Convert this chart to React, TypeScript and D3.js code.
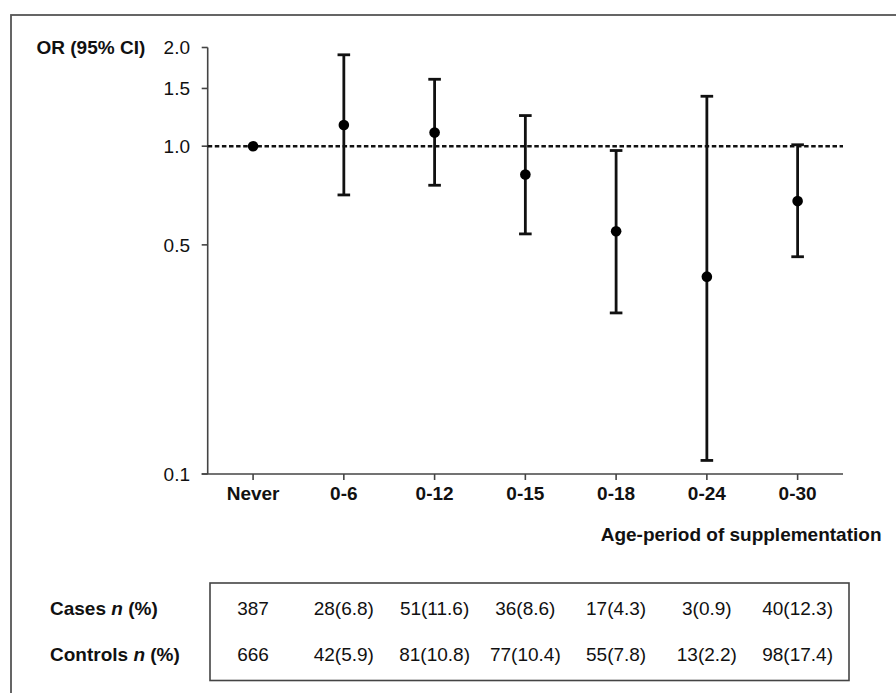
import React from "react";
import * as d3 from "d3";

const categories = ["Never", "0-6", "0-12", "0-15", "0-18", "0-24", "0-30"];
const orValues = [1.0, 1.16, 1.1, 0.82, 0.55, 0.4, 0.68];
const ciLower = [1.0, 0.71, 0.76, 0.54, 0.31, 0.11, 0.46];
const ciUpper = [1.0, 1.9, 1.6, 1.24, 0.97, 1.42, 1.01];
const yTicks = [0.1, 0.5, 1.0, 1.5, 2.0];
const casesRow = ["387", "28(6.8)", "51(11.6)", "36(8.6)", "17(4.3)", "3(0.9)", "40(12.3)"];
const controlsRow = ["666", "42(5.9)", "81(10.8)", "77(10.4)", "55(7.8)", "13(2.2)", "98(17.4)"];

const W = 896;
const H = 693;
const font = "'Liberation Sans', Arial, sans-serif";
const fs = 19;

export default function App() {
  const x = d3.scaleBand<string>().domain(categories).range([207.7, 843]);
  const y = d3.scaleLog().domain([0.1, 2.0]).range([474, 47.5]);
  const cx = (c: string) => (x(c) as number) + x.bandwidth() / 2;
  const x0 = 207.7;
  const x1 = 843;
  const capW = 6.3;

  return (
    <svg
      width={W}
      height={H}
      style={{ position: "absolute", left: 0, top: 0, background: "#fff" }}
      fontFamily={font}
    >
      <rect x={0} y={0} width={W} height={H} fill="#fff" />
      {/* outer frame */}
      <rect x={11} y={15} width={W + 20} height={H + 20} fill="none" stroke="#555" strokeWidth={1.8} />

      {/* y axis */}
      <line x1={x0} x2={x0} y1={y(2.0)} y2={y(0.1)} stroke="#444" strokeWidth={1.6} />
      {yTicks.map((t) => (
        <g key={t}>
          <line x1={x0 - 6} x2={x0} y1={y(t)} y2={y(t)} stroke="#444" strokeWidth={1.6} />
          <text x={190} y={y(t)} dy="0.36em" textAnchor="end" fontSize={fs} fill="#111">
            {t.toFixed(1)}
          </text>
        </g>
      ))}
      <text x={36.5} y={53.5} fontSize={fs} fontWeight="bold" fill="#111">
        OR (95% CI)
      </text>

      {/* x axis */}
      <line x1={x0 - 6} x2={x1} y1={y(0.1)} y2={y(0.1)} stroke="#444" strokeWidth={1.6} />
      {categories.map((c) => (
        <g key={c}>
          <line x1={cx(c)} x2={cx(c)} y1={y(0.1)} y2={y(0.1) + 6} stroke="#444" strokeWidth={1.6} />
          <text x={cx(c)} y={500} textAnchor="middle" fontSize={fs} fontWeight="bold" fill="#111">
            {c}
          </text>
        </g>
      ))}
      <text x={881.5} y={540.5} textAnchor="end" fontSize={fs} fontWeight="bold" fill="#111">
        Age-period of supplementation
      </text>

      {/* reference line */}
      <line x1={x0} x2={x1} y1={y(1)} y2={y(1)} stroke="#111" strokeWidth={2.4} strokeDasharray="4.5,2.6" />

      {/* error bars */}
      {categories.map((c, i) => {
        const px = cx(c);
        if (ciLower[i] === ciUpper[i]) return null;
        return (
          <g key={c} stroke="#111" strokeWidth={2.8}>
            <line x1={px} x2={px} y1={y(ciUpper[i])} y2={y(ciLower[i])} />
            <line x1={px - capW} x2={px + capW} y1={y(ciUpper[i])} y2={y(ciUpper[i])} />
            <line x1={px - capW} x2={px + capW} y1={y(ciLower[i])} y2={y(ciLower[i])} />
          </g>
        );
      })}
      {categories.map((c, i) => (
        <circle key={c} cx={cx(c)} cy={y(orValues[i])} r={5.3} fill="#000" />
      ))}

      {/* table */}
      <rect x={210} y={583} width={639} height={97.5} fill="none" stroke="#444" strokeWidth={1.6} />
      <text x={50} y={615} fontSize={fs} fontWeight="bold" fill="#111">
        Cases <tspan fontStyle="italic">n</tspan> (%)
      </text>
      <text x={50} y={661} fontSize={fs} fontWeight="bold" fill="#111">
        Controls <tspan fontStyle="italic">n</tspan> (%)
      </text>
      {categories.map((c, i) => (
        <g key={c}>
          <text x={cx(c)} y={615} textAnchor="middle" fontSize={fs} fill="#111">
            {casesRow[i]}
          </text>
          <text x={cx(c)} y={661} textAnchor="middle" fontSize={fs} fill="#111">
            {controlsRow[i]}
          </text>
        </g>
      ))}
    </svg>
  );
}
